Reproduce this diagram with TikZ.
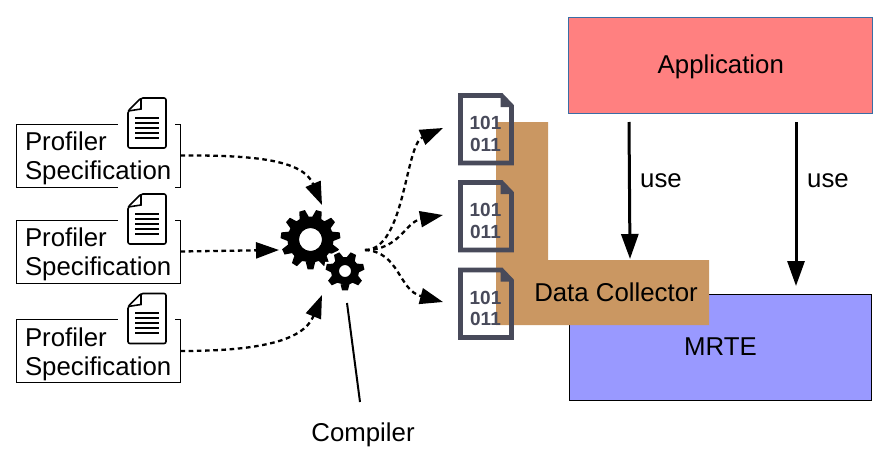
\documentclass[tikz,border=0pt]{standalone}
\usepackage{xcolor}
\usepackage{fontspec}
\setmainfont{Liberation Sans}
\usetikzlibrary{arrows.meta}
\definecolor{iconink}{HTML}{484A5A}
\definecolor{collector}{HTML}{CA9762}
\definecolor{appred}{HTML}{FF8080}
\definecolor{mrteblue}{HTML}{9999FF}
\definecolor{appline}{HTML}{3A6EA5}
\newcommand{\gearteeth}[3]{% teeth, outer radius, root radius
    \foreach \k in {1,...,#1} {
        -- ({(\k-0.36)*360/#1+90}:#3) -- ({(\k-0.17)*360/#1+90}:#2)
        -- ({(\k+0.17)*360/#1+90}:#2) -- ({(\k+0.36)*360/#1+90}:#3)
    } -- cycle
}
\tikzset{
    label/.style={font=\fontsize{25.8}{29}\selectfont},
    oneline/.style={label, text height=23pt, text depth=6pt, inner sep=0pt},
    specbox/.style={label, draw=black, line width=0.9pt, minimum width=164pt, minimum height=63pt,
        text width=146pt, inner sep=0pt, align=left},
    archbox/.style={oneline, minimum width=304pt, minimum height=96pt},
    flow/.style={line width=2.3pt, dash pattern=on 4.6pt off 3.6pt,
        -{Triangle[length=23pt,width=16pt]}},
    use/.style={line width=3pt, -{Triangle[length=25pt,width=17pt]}},
    docicon/.pic={
        \fill[white] (-10, -8) rectangle (47, 52);
        \draw[line width=1.6pt, rounded corners=2pt] (13, 0) -- (38, 0) -- (38, 50) -- (0, 50) -- (0, 13) -- cycle;
        \draw[line width=1.6pt] (13, 0) -- (13, 11) -- (0, 13);
        \foreach \l in {19.7,24.7,29.7,34.7,39.7}
            \draw[line width=1.6pt] (7, \l) -- (31, \l);
    },
    binicon/.pic={
        \draw[iconink, line width=4.6pt, line join=miter] (0, 0) -- (41, 0) -- (51, 10.5) -- (51, 67.5) -- (0, 67.5) -- cycle;
        \fill[iconink] (40, 0) -- (51, 11.5) -- (40, 11.5) -- cycle;
        \node[iconink, font=\fontsize{19}{21.5}\selectfont\bfseries, align=center, inner sep=0pt] at (25, 38.5) {101\\011};
    },
}
\begin{document}
\begin{tikzpicture}[x=1pt, y=-1pt]
    \useasboundingbox (0, 0) rectangle (890, 458);

    \foreach \i/\y in {1/155.5, 2/251.5, 3/351} {
        \node[specbox] (spec\i) at (98, \y) {\rule{0pt}{25pt}Profiler\\Specification};
        \pic at (128, \y-57.5) {docicon};
    }

    \node[archbox, draw=appline, line width=0.9pt, fill=appred] (app) at (720.8, 65.3) {Application};
    \node[archbox, draw=black, line width=0.9pt, fill=mrteblue, minimum width=302.5pt, minimum height=106pt] (mrte) at (720.5, 347.3) {MRTE};

    \fill[collector] (496, 122) -- (548, 122) -- (548, 260) -- (709, 260) -- (709, 325) -- (496, 325) -- cycle;
    \node[oneline] (collect) at (616, 292.5) {Data Collector};

    \foreach \i/\y in {1/95.5, 2/182.5, 3/270}
        \pic at (460.5, \y) {binicon};

    \begin{scope}[shift={(310.5, 239.5)}]
        \fill[even odd rule] (90:23) \gearteeth{11}{30}{23} (0, 0) circle (11.5);
    \end{scope}
    \begin{scope}[shift={(345, 271)}]
        \draw[white, line width=4pt, fill=white] (90:14) \gearteeth{7}{19.5}{14};
        \fill[even odd rule] (90:14) \gearteeth{7}{19.5}{14} (0, 0) circle (6);
    \end{scope}

    \coordinate (gearin1) at (322, 205);
    \coordinate (gearin2) at (279, 250);
    \coordinate (gearin3) at (322, 295);
    \coordinate (gearout) at (365, 250);
    \coordinate (file1) at (443, 128);
    \coordinate (file2) at (443, 215);
    \coordinate (file3) at (443, 302);

    \draw[flow] (spec1.east) .. controls (255, 155) and (303, 160) .. (gearin1);
    \draw[flow] (spec2.east) -- (gearin2);
    \draw[flow] (spec3.east) .. controls (255, 351) and (303, 342) .. (gearin3);
    \draw[flow] (gearout) .. controls (405, 250) and (405, 145) .. (file1);
    \draw[flow] (gearout) .. controls (400, 250) and (405, 222) .. (file2);
    \draw[flow] (gearout) .. controls (400, 252) and (398, 290) .. (file3);

    \coordinate (gearfoot) at (347, 303);
    \coordinate (compfoot) at (360, 402);
    \draw[line width=2pt] (gearfoot) -- (compfoot);
    \node[oneline] (compiler) at (363, 432.5) {Compiler};

    \coordinate (useatop) at (629, 122);
    \coordinate (useabot) at (630, 259);
    \coordinate (usebtop) at (796, 122);
    \coordinate (usebbot) at (796, 286);
    \draw[use] (useatop) -- (useabot);
    \draw[use] (usebtop) -- (usebbot);
    \node[oneline] (usea) at (661, 178.5) {use};
    \node[oneline] (useb) at (828, 178.5) {use};
\end{tikzpicture}
\end{document}
